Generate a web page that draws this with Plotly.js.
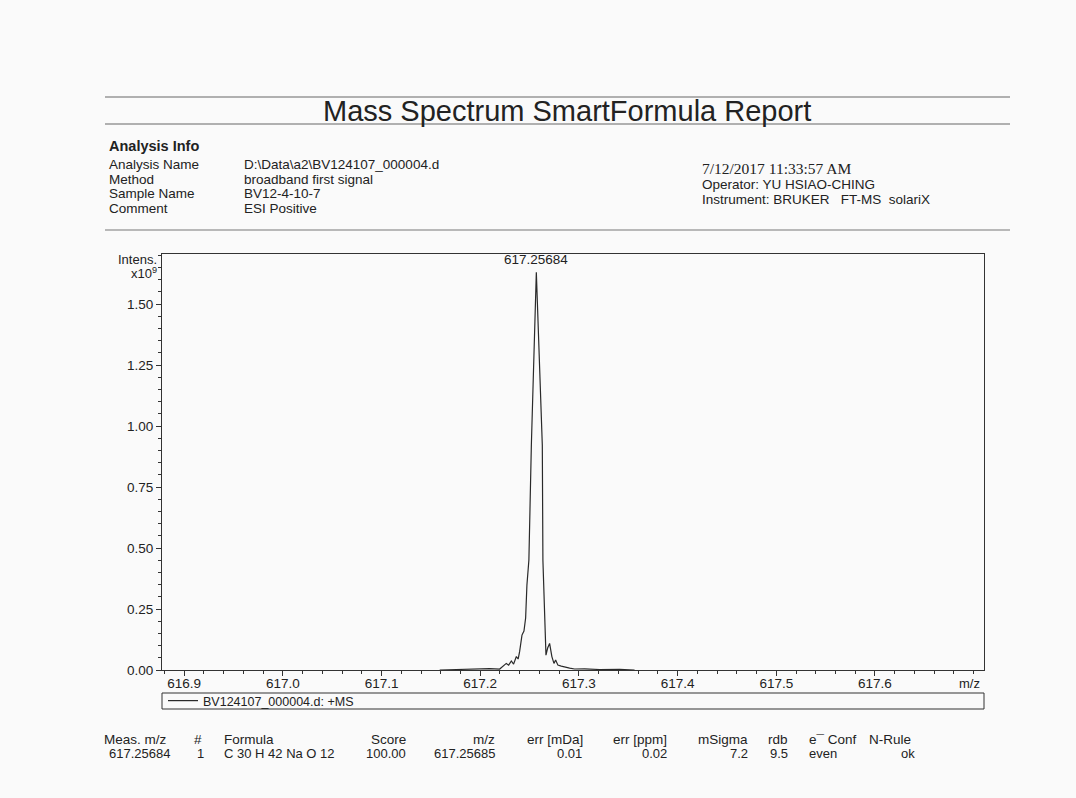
<!DOCTYPE html>
<html>
<head>
<meta charset="utf-8">
<script src="https://cdn.plot.ly/plotly-3.0.1.min.js"></script>
<style>html,body{margin:0;padding:0;background:#fafafa;}#chart{width:1076px;height:798px;}</style>
</head>
<body>
<div id="chart"></div>
<script>
// ---------------- data ----------------
const mz = [617.1589, 617.1741, 617.1893, 617.1994, 617.2095, 617.2197, 617.2240, 617.2264, 617.2288, 617.2315,
            617.2338, 617.2366, 617.2384, 617.2399, 617.2423, 617.2443, 617.2460, 617.2473, 617.2493, 617.2518,
            617.25684, 617.2629, 617.2635, 617.2645, 617.2652, 617.2666, 617.2683, 617.2703, 617.2726, 617.2747,
            617.2764, 617.2787, 617.2821, 617.2855, 617.2906, 617.2956, 617.3057, 617.3209, 617.3412, 617.3564];
const intensity = [0.000, 0.002, 0.004, 0.003, 0.006, 0.004, 0.020, 0.027, 0.020, 0.037,
                   0.024, 0.055, 0.045, 0.075, 0.143, 0.160, 0.213, 0.348, 0.451, 0.922,
                   1.630, 0.922, 0.451, 0.348, 0.213, 0.061, 0.090, 0.109, 0.055, 0.027,
                   0.041, 0.020, 0.016, 0.012, 0.008, 0.004, 0.005, 0.002, 0.003, 0.000];
const traceName = 'BV124107_000004.d: +MS';
const peakMz = 617.25684;
const peakIntensity = 1.630;
const peakLabel = '617.25684';

const xTickVals = [616.9, 617.0, 617.1, 617.2, 617.3, 617.4, 617.5, 617.6];
const xTickText = ['616.9', '617.0', '617.1', '617.2', '617.3', '617.4', '617.5', '617.6'];
const yTickVals = [0, 0.25, 0.5, 0.75, 1.0, 1.25, 1.5];
const yTickText = ['0.00', '0.25', '0.50', '0.75', '1.00', '1.25', '1.50'];

const reportTitle = 'Mass Spectrum SmartFormula Report';
const infoHeading = 'Analysis Info';
const infoLabels = ['Analysis Name', 'Method', 'Sample Name', 'Comment'];
const infoValues = ['D:\\Data\\a2\\BV124107_000004.d', 'broadband first signal', 'BV12-4-10-7', 'ESI Positive'];
const runDate = '7/12/2017 11:33:57 AM';
const runInfo = ['Operator: YU HSIAO-CHING', 'Instrument: BRUKER\u00a0\u00a0\u00a0FT-MS\u00a0\u00a0solariX'];

const tableHeaders = ['Meas. m/z', '#', 'Formula', 'Score', 'm/z', 'err [mDa]', 'err [ppm]', 'mSigma', 'rdb', 'e\u00af Conf', 'N-Rule'];
const tableValues  = ['617.25684', '1', 'C 30 H 42 Na O 12', '100.00', '617.25685', '0.01', '0.02', '7.2', '9.5', 'even', 'ok'];

// ---------------- layout helpers ----------------
const W = 1076, H = 798;
const px = x => x / W;
const py = y => 1 - y / H;
const SANS = 'Liberation Sans, Arial, sans-serif';
const SERIF = 'Liberation Serif, Times New Roman, serif';
const INK = '#222';

function note(x, y, text, size, xanchor, family, extra) {
  return Object.assign({
    xref: 'paper', yref: 'paper', x: px(x), y: py(y), text: text,
    showarrow: false, xanchor: xanchor || 'left', yanchor: 'middle',
    font: {family: family || SANS, size: size, color: INK}
  }, extra || {});
}

const annotations = [];
annotations.push(note(567, 111, reportTitle, 29, 'center'));
annotations.push(note(107, 146, '<b>' + infoHeading + '</b>', 14.5));
const infoRowY = [165, 179.5, 194, 208.5];
infoLabels.forEach((t, i) => annotations.push(note(107, infoRowY[i], t, 13.5)));
infoValues.forEach((t, i) => annotations.push(note(242, infoRowY[i], t, 13.5)));
annotations.push(note(700, 168.5, runDate, 15.5, 'left', SERIF));
const runY = [184.5, 199.5];
runInfo.forEach((t, i) => annotations.push(note(700, runY[i], t, 13.5)));

// axis extras
annotations.push(note(159, 259, 'Intens.', 13, 'right'));
annotations.push(note(159, 273, 'x10<sup>9</sup>', 13, 'right'));
annotations.push(note(982, 683, 'm/z', 13, 'right'));
// peak label from data
annotations.push({
  xref: 'x', yref: 'y', x: peakMz, y: peakIntensity, text: peakLabel, showarrow: false,
  xanchor: 'center', yanchor: 'bottom', yshift: 3,
  font: {family: SANS, size: 13.5, color: INK}
});

// results table
const headerX = [102, 198, 222, 408, 497, 585, 669, 750, 790, 807, 867];
const headerA = ['left', 'center', 'left', 'right', 'right', 'right', 'right', 'right', 'right', 'left', 'left'];
const valueX  = [172, 200, 222, 408, 497, 584, 669, 750, 790, 807, 917];
const valueA  = ['right', 'center', 'left', 'right', 'right', 'right', 'right', 'right', 'right', 'left', 'right'];
tableHeaders.forEach((t, i) => annotations.push(note(headerX[i], 739.5, t, 13.5, headerA[i])));
tableValues.forEach((t, i) => annotations.push(note(valueX[i], 753.5, t, 13, valueA[i])));

function hline(x0, x1, y, color, width) {
  return {type: 'line', xref: 'paper', yref: 'paper', x0: px(x0), x1: px(x1), y0: py(y), y1: py(y),
          line: {color: color || '#555', width: width || 1}};
}
const shapes = [
  hline(105, 1010, 97, '#666', 1.2),
  hline(105, 1010, 124, '#666', 1.2),
  hline(105, 1010, 230, '#777', 1.2),
  {type: 'rect', xref: 'paper', yref: 'paper', x0: px(162), x1: px(984), y0: py(709), y1: py(693),
   line: {color: '#333', width: 1}, fillcolor: 'rgba(0,0,0,0)'}
];

const trace = {
  x: mz, y: intensity, type: 'scatter', mode: 'lines', name: traceName,
  line: {color: '#2a2a2a', width: 1.2, shape: 'linear'}, showlegend: true
};

const axisCommon = {
  showline: true, mirror: true, linecolor: '#333', linewidth: 1,
  ticks: 'outside', ticklen: 5, tickwidth: 1, tickcolor: '#333',
  showgrid: false, zeroline: false, tickmode: 'array',
  tickfont: {family: SANS, size: 13.5, color: INK}
};

const layout = {
  width: W, height: H, autosize: false,
  margin: {l: 0, r: 0, t: 0, b: 0, pad: 0},
  paper_bgcolor: '#fafafa', plot_bgcolor: 'rgba(0,0,0,0)',
  xaxis: Object.assign({}, axisCommon, {
    domain: [px(162), px(984)], range: [616.8775, 617.7105],
    tickvals: xTickVals, ticktext: xTickText, ticklabelstandoff: -4,
    minor: {dtick: 0.02, tick0: 616.9, ticks: 'outside', ticklen: 3, tickcolor: '#333', showgrid: false}
  }),
  yaxis: Object.assign({}, axisCommon, {
    domain: [py(670), py(254)], range: [0, 1.705],
    tickvals: yTickVals, ticktext: yTickText,
    minor: {dtick: 0.05, tick0: 0, ticks: 'outside', ticklen: 3, tickcolor: '#333', showgrid: false}
  }),
  showlegend: true,
  legend: {
    x: px(163), y: py(686), xanchor: 'left', yanchor: 'top',
    bgcolor: 'rgba(0,0,0,0)', borderwidth: 0,
    font: {family: SANS, size: 12.5, color: INK}, itemwidth: 30
  },
  annotations: annotations,
  shapes: shapes
};

Plotly.newPlot('chart', [trace], layout, {displayModeBar: false, staticPlot: true});
</script>
</body>
</html>
